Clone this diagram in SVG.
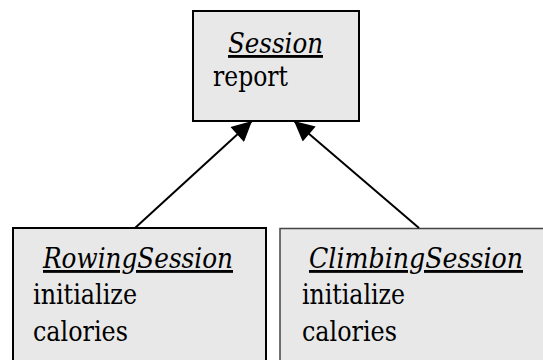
<svg xmlns="http://www.w3.org/2000/svg" width="543" height="360" viewBox="0 0 543 360">
<style>
.box{fill:#e8e8e8;stroke:#000;stroke-width:2}
.box2{fill:#e8e8e8;stroke:#444;stroke-width:1.5}
.t{font-family:'DejaVu Serif','Liberation Serif',serif;font-size:28.5px;fill:#000}
.it{font-style:italic;text-decoration:underline}
</style>
<defs>
<marker id="ah2" viewBox="0 0 10 10" refX="10" refY="5" markerWidth="22" markerHeight="20" markerUnits="userSpaceOnUse" orient="auto">
<path d="M0,0 L10,5 L0,10 z" fill="#000"/>
</marker>
</defs>
<g id="session">
<rect class="box" x="193" y="11" width="166" height="110"/>
<text class="t it" x="228" y="53" textLength="95" lengthAdjust="spacingAndGlyphs">Session</text>
<text class="t" x="213" y="86" textLength="75" lengthAdjust="spacingAndGlyphs">report</text>
</g>
<g id="rowing">
<rect class="box" x="13" y="228" width="253" height="134"/>
<text class="t it" x="43" y="268" textLength="190" lengthAdjust="spacingAndGlyphs">RowingSession</text>
<text class="t" x="33" y="304" textLength="104" lengthAdjust="spacingAndGlyphs">initialize</text>
<text class="t" x="33" y="341" textLength="95" lengthAdjust="spacingAndGlyphs">calories</text>
</g>
<g id="climbing">
<rect class="box2" x="280" y="228.5" width="264.5" height="133"/>
<text class="t it" x="309" y="268" textLength="214" lengthAdjust="spacingAndGlyphs">ClimbingSession</text>
<text class="t" x="302" y="304" textLength="103" lengthAdjust="spacingAndGlyphs">initialize</text>
<text class="t" x="302" y="341" textLength="95" lengthAdjust="spacingAndGlyphs">calories</text>
</g>
<g id="connectors">
<line x1="135" y1="228" x2="252" y2="121" stroke="#000" stroke-width="2" marker-end="url(#ah2)"/>
<line x1="419" y1="228" x2="294" y2="121" stroke="#000" stroke-width="2" marker-end="url(#ah2)"/>
</g>
</svg>
